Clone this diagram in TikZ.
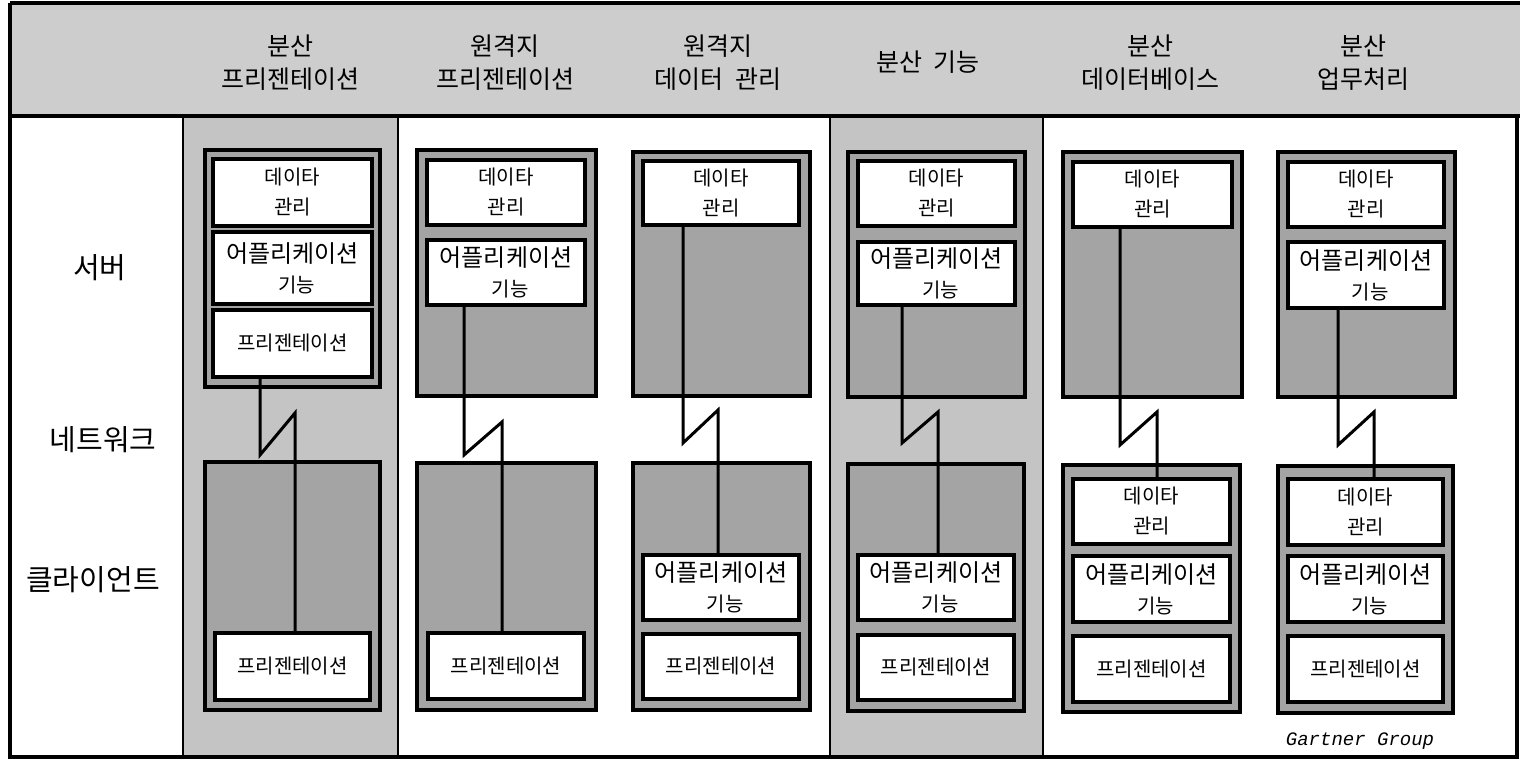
\documentclass[tikz,border=0pt]{standalone}
\usepackage{fontspec}
\setmainfont{Noto Sans CJK KR}
\newfontfamily\gartnerfont{Liberation Mono}
\definecolor{headgray}{HTML}{CDCDCD}
\definecolor{stripgray}{HTML}{C4C4C4}
\definecolor{boxgray}{HTML}{A4A4A4}
\newcommand\rbox[7]{\node[#6, minimum width={(#4-#2)*0.5pt}, minimum height={(#5-#3)*0.5pt}] (#1) at ({(#2+#4)/2},{(#3+#5)/2}) {#7};}
\newcommand\apptext{{\fontsize{12}{15}\selectfont 어플리케이션}\\\hspace*{4pt}기능}
\newcommand\datatext{데이타\\관리}
\begin{document}
\begin{tikzpicture}[x=0.5pt,y=-0.5pt,
  outerbox/.style={draw, line width=2pt, fill=boxgray, inner sep=0pt},
  innerbox/.style={draw, line width=1.6pt, fill=white, inner sep=0pt, align=center,
    font=\fontsize{10}{15}\selectfont},
  strip/.style={draw, line width=1pt, fill=stripgray},
  link/.style={line width=1.5pt},
  frameline/.style={line width=1.6pt},
  headtext/.style={align=center, font=\fontsize{12.5}{16.5}\selectfont, inner sep=0pt},
  rowlabel/.style={font=\fontsize{14.5}{16}\selectfont, inner sep=0pt}]
\useasboundingbox (0,0) rectangle (1520,762);
% header and frame
\fill[headgray] (10,3) rectangle (1520,116);
\draw[strip] (183,116) rectangle (398,757);
\draw[strip] (830,116) rectangle (1043,757);
\draw[frameline] (10,3) -- (1520,3);
\draw[frameline] (10,116) -- (1520,116);
\draw[frameline] (10,3) -- (10,757) -- (1517,757) -- (1517,116);
% header texts
\node[headtext] (h1) at (290,63) {분산\\프리젠테이션};
\node[headtext] (h2) at (505,63) {원격지\\프리젠테이션};
\node[headtext] (h3) at (718,63) {원격지\\데이터\ \ 관리};
\node[headtext] (h4) at (928,62) {분산\ \ 기능};
\node[headtext] (h5) at (1150,63) {분산\\데이터베이스};
\node[headtext] (h6) at (1363,63) {분산\\업무처리};
% row labels
\node[rowlabel] (lserver) at (100,268) {서버};
\node[rowlabel] (lnet) at (103,440) {네트워크};
\node[rowlabel] (lclient) at (93,580) {클라이언트};
% outer boxes
\rbox{S1}{205}{150}{380}{387}{outerbox}{}
\rbox{C1}{205}{462}{380}{710}{outerbox}{}
\rbox{S2}{417}{150}{596}{396}{outerbox}{}
\rbox{C2}{417}{463}{596}{710}{outerbox}{}
\rbox{S3}{633}{152}{810}{396}{outerbox}{}
\rbox{C3}{633}{463}{810}{710}{outerbox}{}
\rbox{S4}{848}{152}{1025}{397}{outerbox}{}
\rbox{C4}{848}{464}{1024}{711}{outerbox}{}
\rbox{S5}{1063}{152}{1242}{397}{outerbox}{}
\rbox{C5}{1063}{465}{1240}{712}{outerbox}{}
\rbox{S6}{1278}{152}{1455}{397}{outerbox}{}
\rbox{C6}{1278}{466}{1453}{713}{outerbox}{}
% zigzag coordinates
\coordinate (z1a) at (260,455); \coordinate (z1b) at (295,413);
\coordinate (z2a) at (464,455); \coordinate (z2b) at (502,422);
\coordinate (z3a) at (683,443); \coordinate (z3b) at (718,410);
\coordinate (z4a) at (902,443); \coordinate (z4b) at (938,412);
\coordinate (z5a) at (1120,445); \coordinate (z5b) at (1157,412);
\coordinate (z6a) at (1338,445); \coordinate (z6b) at (1374,412);
% inner boxes (server)
\rbox{s1d}{213}{159}{372}{226}{innerbox}{\datatext}
\rbox{s1a}{213}{232}{372}{304}{innerbox}{\apptext}
\rbox{s1p}{213}{310}{372}{377}{innerbox}{프리젠테이션}
\rbox{s2d}{427}{160}{585}{225}{innerbox}{\datatext}
\rbox{s2a}{427}{240}{585}{305}{innerbox}{\apptext}
\rbox{s3d}{643}{161}{799}{225}{innerbox}{\datatext}
\rbox{s4d}{858}{161}{1015}{226}{innerbox}{\datatext}
\rbox{s4a}{858}{242}{1015}{305}{innerbox}{\apptext}
\rbox{s5d}{1073}{162}{1232}{227}{innerbox}{\datatext}
\rbox{s6d}{1288}{162}{1444}{227}{innerbox}{\datatext}
\rbox{s6a}{1288}{242}{1444}{308}{innerbox}{\apptext}
% inner boxes (client)
\rbox{c1p}{215}{633}{370}{700}{innerbox}{프리젠테이션}
\rbox{c2p}{428}{633}{584}{699}{innerbox}{프리젠테이션}
\rbox{c3a}{643}{555}{799}{620}{innerbox}{\apptext}
\rbox{c3p}{643}{634}{799}{699}{innerbox}{프리젠테이션}
\rbox{c4a}{858}{555}{1014}{620}{innerbox}{\apptext}
\rbox{c4p}{858}{635}{1014}{700}{innerbox}{프리젠테이션}
\rbox{c5d}{1073}{479}{1230}{544}{innerbox}{\datatext}
\rbox{c5a}{1073}{556}{1230}{622}{innerbox}{\apptext}
\rbox{c5p}{1073}{636}{1230}{702}{innerbox}{프리젠테이션}
\rbox{c6d}{1288}{479}{1443}{545}{innerbox}{\datatext}
\rbox{c6a}{1288}{556}{1443}{622}{innerbox}{\apptext}
\rbox{c6p}{1288}{636}{1443}{702}{innerbox}{프리젠테이션}
% connectors
\draw[link] (s1p.south -| z1a) -- (z1a) -- (z1b) -- (c1p.north -| z1b);
\draw[link] (s2a.south -| z2a) -- (z2a) -- (z2b) -- (c2p.north -| z2b);
\draw[link] (s3d.south -| z3a) -- (z3a) -- (z3b) -- (c3a.north -| z3b);
\draw[link] (s4a.south -| z4a) -- (z4a) -- (z4b) -- (c4a.north -| z4b);
\draw[link] (s5d.south -| z5a) -- (z5a) -- (z5b) -- (c5d.north -| z5b);
\draw[link] (s6a.south -| z6a) -- (z6a) -- (z6b) -- (c6d.north -| z6b);
% source
\node[font=\gartnerfont\itshape\fontsize{9.5}{10}\selectfont, inner sep=0pt] (src) at (1360,741) {Gartner Group};
\end{tikzpicture}
\end{document}
